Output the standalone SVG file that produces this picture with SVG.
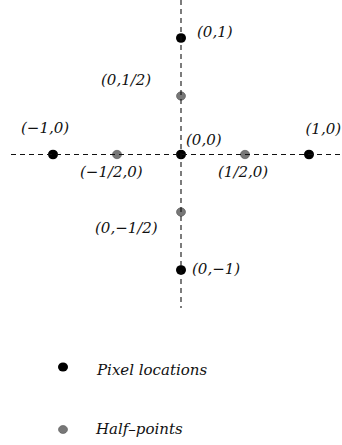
<svg xmlns="http://www.w3.org/2000/svg" width="342" height="445" viewBox="0 0 342 445">
<style>
.lbl{font-family:"DejaVu Serif","Liberation Serif",serif;font-style:italic;font-size:15px;fill:#111}
.px{fill:#000}
.hp{fill:#777;stroke:#555;stroke-width:0.6}
.axis{stroke:#111;stroke-width:1.1;stroke-dasharray:5,4;fill:none}
</style>
<rect width="342" height="445" fill="#fff"/>
<g id="p_0_1"><ellipse class="px" cx="181" cy="38" rx="5" ry="4.8"/><text class="lbl" x="197" y="37">(0,1)</text></g>
<g id="p_0_half"><ellipse class="hp" cx="181" cy="96" rx="4.5" ry="4.2"/><text class="lbl" x="101" y="85">(0,1/2)</text></g>
<g id="p_m1_0"><ellipse class="px" cx="53" cy="154.5" rx="5" ry="4.8"/><text class="lbl" x="21" y="133">(−1,0)</text></g>
<g id="p_mhalf_0"><ellipse class="hp" cx="117" cy="154.5" rx="4.5" ry="4.2"/><text class="lbl" x="80" y="177">(−1/2,0)</text></g>
<g id="p_0_0"><ellipse class="px" cx="181" cy="154.5" rx="5" ry="4.8"/><text class="lbl" x="186" y="145">(0,0)</text></g>
<g id="p_half_0"><ellipse class="hp" cx="245" cy="154.5" rx="4.5" ry="4.2"/><text class="lbl" x="218" y="177">(1/2,0)</text></g>
<g id="p_1_0"><ellipse class="px" cx="309" cy="154.5" rx="5" ry="4.8"/><text class="lbl" x="305.5" y="134">(1,0)</text></g>
<g id="p_0_mhalf"><ellipse class="hp" cx="181" cy="212" rx="4.5" ry="4.2"/><text class="lbl" x="95" y="233">(0,−1/2)</text></g>
<g id="p_0_m1"><ellipse class="px" cx="181" cy="270" rx="5" ry="4.8"/><text class="lbl" x="192" y="274">(0,−1)</text></g>
<g id="connectors">
<line class="axis" x1="11" y1="154.5" x2="342" y2="154.5"/>
<line class="axis" x1="181" y1="0" x2="181" y2="308"/>
</g>
<g id="legend_pixel"><ellipse class="px" cx="63" cy="367" rx="5" ry="4.5"/><text class="lbl" x="97" y="375">Pixel locations</text></g>
<g id="legend_half"><ellipse class="hp" cx="63" cy="429.5" rx="4.5" ry="4"/><text class="lbl" x="96" y="434">Half–points</text></g>
</svg>
